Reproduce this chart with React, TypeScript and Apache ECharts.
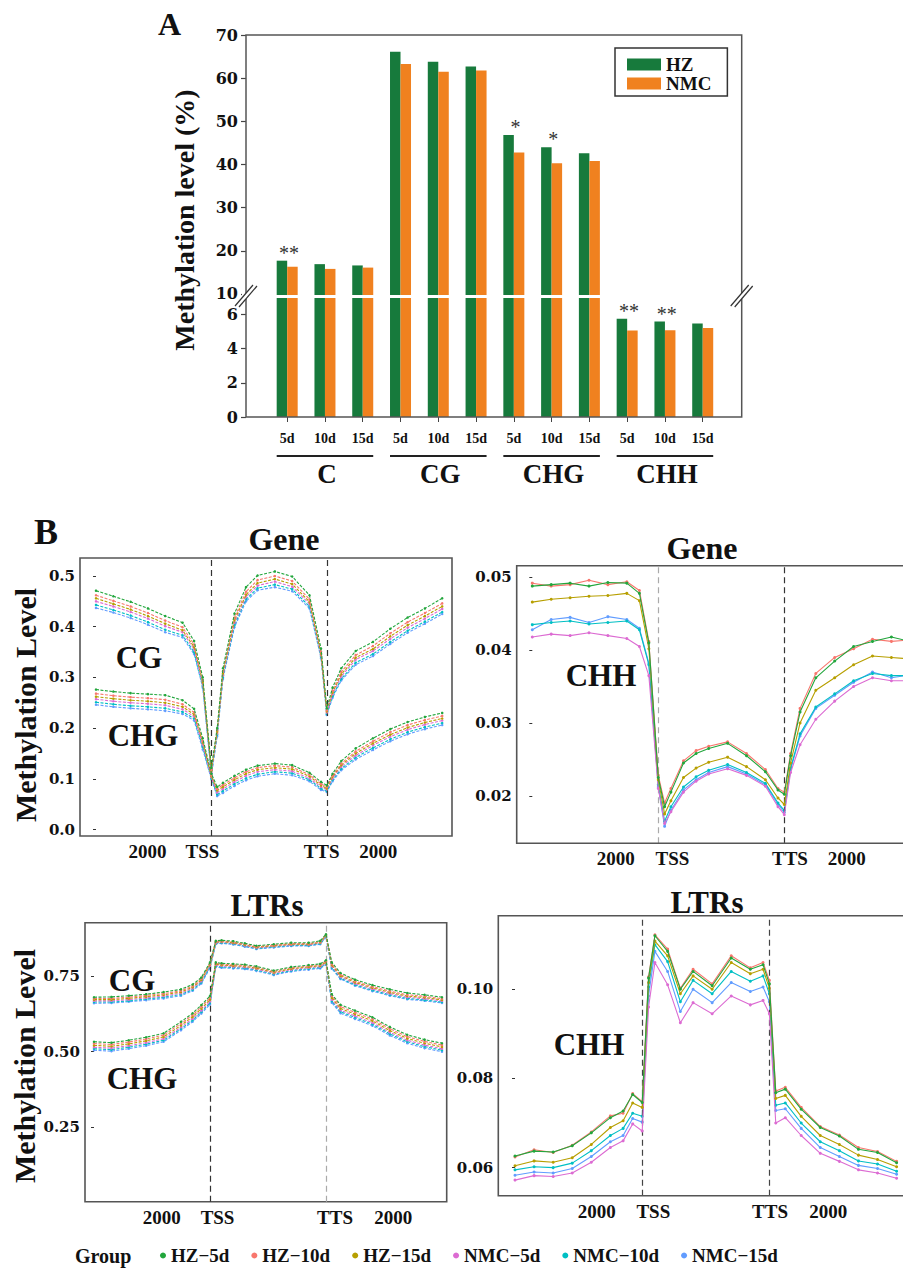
import React, { useEffect, useRef } from "react";
import * as echarts from "echarts";

const SERIF = '"Liberation Serif", "Times New Roman", Times, serif';
const DEJAVU = '"DejaVu Serif", "Liberation Serif", serif';

/* ---------------- Panel A data ---------------- */
const days = ["5d", "10d", "15d"];
const contexts = ["C", "CG", "CHG", "CHH"];
const hzLevel = [17.7, 16.9, 16.6, 66.1, 63.8, 62.7, 46.8, 44.0, 42.6, 5.75, 5.59, 5.47];
const nmcLevel = [16.3, 15.8, 16.1, 63.3, 61.5, 61.8, 42.8, 40.3, 40.8, 5.07, 5.08, 5.22];
const significance = ["**", "", "", "", "", "", "*", "*", "", "**", "**", ""];
const barLegend = ["HZ", "NMC"];
const upperTicks = [10, 20, 30, 40, 50, 60, 70];
const lowerTicks = [0, 2, 4, 6];

/* ---------------- Panel B data ---------------- */
const groupNames = ["HZ\u22125d", "HZ\u221210d", "HZ\u221215d", "NMC\u22125d", "NMC\u221210d", "NMC\u221215d"];
const regionLabels = ["2000", "TSS", "TTS", "2000"];
// bin positions: upstream 0-20, TSS = 20, gene body 20-40, TTS = 40, downstream 40-60
const binPos = [0, 3, 6, 9, 12, 15, 17, 18.5, 20, 21, 22, 24, 26, 28, 31, 34, 37, 39, 40, 41, 42.5, 45, 48, 51, 54, 57, 60];
const TSS_BIN = 20;
const TTS_BIN = 40;

const geneTicks = [0, 0.1, 0.2, 0.3, 0.4, 0.5];
const geneChhTicks = [0.02, 0.03, 0.04, 0.05];
const ltrTicks = [0.25, 0.5, 0.75];
const ltrChhTicks = [0.06, 0.08, 0.1];

// Gene CG
const geneCG_HZ5 = [0.471, 0.460, 0.449, 0.436, 0.421, 0.408, 0.372, 0.300, 0.122, 0.200, 0.318, 0.426, 0.478, 0.501, 0.509, 0.499, 0.462, 0.357, 0.239, 0.280, 0.318, 0.352, 0.370, 0.396, 0.418, 0.436, 0.456];
const geneCG_HZ10 = [0.462, 0.451, 0.440, 0.427, 0.412, 0.399, 0.365, 0.295, 0.118, 0.196, 0.312, 0.418, 0.469, 0.492, 0.500, 0.490, 0.454, 0.351, 0.235, 0.274, 0.311, 0.344, 0.362, 0.387, 0.409, 0.427, 0.446];
const geneCG_HZ15 = [0.456, 0.445, 0.434, 0.421, 0.406, 0.393, 0.360, 0.291, 0.116, 0.193, 0.308, 0.413, 0.463, 0.486, 0.494, 0.484, 0.449, 0.347, 0.233, 0.270, 0.306, 0.339, 0.356, 0.381, 0.403, 0.421, 0.440];
const geneCG_NMC5 = [0.450, 0.440, 0.429, 0.416, 0.401, 0.389, 0.356, 0.288, 0.113, 0.190, 0.304, 0.408, 0.459, 0.481, 0.489, 0.479, 0.445, 0.344, 0.231, 0.267, 0.302, 0.335, 0.352, 0.376, 0.398, 0.416, 0.435];
const geneCG_NMC10 = [0.443, 0.433, 0.422, 0.409, 0.394, 0.383, 0.350, 0.283, 0.110, 0.187, 0.300, 0.403, 0.454, 0.476, 0.483, 0.474, 0.440, 0.341, 0.228, 0.263, 0.297, 0.329, 0.346, 0.370, 0.392, 0.410, 0.429];
const geneCG_NMC15 = [0.437, 0.428, 0.417, 0.404, 0.389, 0.379, 0.346, 0.280, 0.107, 0.184, 0.297, 0.399, 0.450, 0.472, 0.478, 0.470, 0.436, 0.338, 0.226, 0.260, 0.294, 0.325, 0.342, 0.366, 0.388, 0.406, 0.425];

// Gene CHG
const geneCHG_HZ5 = [0.276, 0.272, 0.269, 0.267, 0.265, 0.255, 0.238, 0.180, 0.110, 0.084, 0.092, 0.106, 0.118, 0.126, 0.130, 0.127, 0.112, 0.094, 0.087, 0.110, 0.135, 0.160, 0.180, 0.198, 0.212, 0.222, 0.230];
const geneCHG_HZ10 = [0.268, 0.264, 0.261, 0.259, 0.256, 0.247, 0.231, 0.175, 0.107, 0.080, 0.088, 0.102, 0.114, 0.122, 0.126, 0.123, 0.108, 0.090, 0.084, 0.106, 0.130, 0.154, 0.174, 0.192, 0.206, 0.216, 0.224];
const geneCHG_HZ15 = [0.262, 0.258, 0.255, 0.253, 0.250, 0.242, 0.227, 0.172, 0.105, 0.077, 0.084, 0.098, 0.110, 0.118, 0.122, 0.119, 0.105, 0.087, 0.081, 0.104, 0.127, 0.150, 0.170, 0.187, 0.201, 0.211, 0.219];
const geneCHG_NMC5 = [0.257, 0.253, 0.250, 0.248, 0.245, 0.237, 0.223, 0.168, 0.103, 0.073, 0.080, 0.094, 0.106, 0.114, 0.118, 0.115, 0.101, 0.084, 0.079, 0.101, 0.124, 0.146, 0.166, 0.183, 0.197, 0.207, 0.215];
const geneCHG_NMC10 = [0.251, 0.247, 0.244, 0.242, 0.239, 0.232, 0.219, 0.163, 0.101, 0.069, 0.076, 0.090, 0.101, 0.109, 0.114, 0.111, 0.098, 0.081, 0.076, 0.098, 0.120, 0.142, 0.161, 0.178, 0.192, 0.202, 0.210];
const geneCHG_NMC15 = [0.246, 0.242, 0.239, 0.237, 0.234, 0.228, 0.215, 0.158, 0.099, 0.066, 0.072, 0.086, 0.097, 0.105, 0.110, 0.107, 0.095, 0.078, 0.074, 0.095, 0.117, 0.138, 0.157, 0.174, 0.188, 0.198, 0.206];

// Gene CHH
const geneCHH_HZ5 = [0.0488, 0.0490, 0.0492, 0.0488, 0.0493, 0.0492, 0.0478, 0.0410, 0.0225, 0.0185, 0.0205, 0.0245, 0.0258, 0.0265, 0.0272, 0.0255, 0.0233, 0.0208, 0.0202, 0.0255, 0.0315, 0.0362, 0.0385, 0.0405, 0.0412, 0.0418, 0.0412];
const geneCHH_HZ10 = [0.0492, 0.0488, 0.0490, 0.0496, 0.0490, 0.0494, 0.0482, 0.0412, 0.0228, 0.0190, 0.0210, 0.0248, 0.0262, 0.0268, 0.0274, 0.0258, 0.0236, 0.0210, 0.0205, 0.0258, 0.0320, 0.0368, 0.0390, 0.0402, 0.0415, 0.0412, 0.0414];
const geneCHH_HZ15 = [0.0466, 0.0470, 0.0472, 0.0474, 0.0475, 0.0478, 0.0468, 0.0402, 0.0222, 0.0175, 0.0193, 0.0225, 0.0238, 0.0246, 0.0253, 0.0240, 0.0222, 0.0197, 0.0188, 0.0245, 0.0300, 0.0345, 0.0362, 0.0380, 0.0392, 0.0390, 0.0388];
const geneCHH_NMC5 = [0.0418, 0.0422, 0.0420, 0.0424, 0.0420, 0.0416, 0.0405, 0.0365, 0.0210, 0.0162, 0.0178, 0.0205, 0.0220, 0.0230, 0.0237, 0.0228, 0.0213, 0.0185, 0.0174, 0.0232, 0.0270, 0.0305, 0.0330, 0.0350, 0.0362, 0.0358, 0.0358];
const geneCHH_NMC10 = [0.0435, 0.0438, 0.0440, 0.0436, 0.0438, 0.0440, 0.0428, 0.0380, 0.0215, 0.0165, 0.0185, 0.0212, 0.0226, 0.0235, 0.0243, 0.0232, 0.0217, 0.0190, 0.0180, 0.0238, 0.0285, 0.0322, 0.0340, 0.0358, 0.0368, 0.0365, 0.0365];
const geneCHH_NMC15 = [0.0428, 0.0442, 0.0445, 0.0438, 0.0446, 0.0442, 0.0430, 0.0382, 0.0212, 0.0158, 0.0180, 0.0208, 0.0222, 0.0232, 0.0240, 0.0230, 0.0215, 0.0188, 0.0177, 0.0236, 0.0282, 0.0320, 0.0338, 0.0356, 0.0370, 0.0362, 0.0366];

// LTR CG
const ltrCG_HZ5 = [0.680, 0.681, 0.685, 0.690, 0.697, 0.706, 0.722, 0.745, 0.795, 0.866, 0.868, 0.865, 0.858, 0.850, 0.855, 0.860, 0.860, 0.866, 0.888, 0.795, 0.760, 0.738, 0.720, 0.706, 0.694, 0.688, 0.680];
const ltrCG_HZ10 = [0.676, 0.676, 0.680, 0.686, 0.692, 0.701, 0.717, 0.741, 0.791, 0.864, 0.866, 0.862, 0.855, 0.847, 0.852, 0.857, 0.857, 0.863, 0.886, 0.790, 0.755, 0.733, 0.715, 0.700, 0.688, 0.683, 0.675];
const ltrCG_HZ15 = [0.672, 0.672, 0.676, 0.682, 0.688, 0.697, 0.713, 0.737, 0.788, 0.862, 0.864, 0.860, 0.853, 0.845, 0.850, 0.855, 0.855, 0.861, 0.884, 0.786, 0.751, 0.729, 0.711, 0.696, 0.684, 0.679, 0.671];
const ltrCG_NMC5 = [0.668, 0.668, 0.672, 0.678, 0.684, 0.693, 0.709, 0.733, 0.784, 0.860, 0.862, 0.858, 0.851, 0.843, 0.848, 0.853, 0.853, 0.859, 0.882, 0.782, 0.747, 0.725, 0.707, 0.692, 0.680, 0.675, 0.668];
const ltrCG_NMC10 = [0.664, 0.664, 0.668, 0.674, 0.680, 0.689, 0.705, 0.729, 0.780, 0.858, 0.860, 0.856, 0.849, 0.841, 0.846, 0.851, 0.851, 0.857, 0.880, 0.778, 0.743, 0.721, 0.703, 0.688, 0.676, 0.671, 0.664];
const ltrCG_NMC15 = [0.660, 0.661, 0.665, 0.670, 0.676, 0.685, 0.701, 0.725, 0.776, 0.856, 0.858, 0.854, 0.847, 0.839, 0.844, 0.849, 0.849, 0.855, 0.878, 0.774, 0.740, 0.718, 0.700, 0.685, 0.673, 0.668, 0.661];

// LTR CHG
const ltrCHG_HZ5 = [0.533, 0.530, 0.538, 0.548, 0.561, 0.599, 0.627, 0.654, 0.684, 0.795, 0.792, 0.790, 0.788, 0.782, 0.768, 0.780, 0.786, 0.790, 0.802, 0.690, 0.655, 0.636, 0.614, 0.582, 0.556, 0.540, 0.528];
const ltrCHG_HZ10 = [0.527, 0.524, 0.532, 0.542, 0.555, 0.593, 0.621, 0.648, 0.678, 0.792, 0.789, 0.787, 0.785, 0.779, 0.765, 0.777, 0.783, 0.787, 0.799, 0.684, 0.649, 0.630, 0.608, 0.576, 0.550, 0.534, 0.522];
const ltrCHG_HZ15 = [0.521, 0.518, 0.526, 0.536, 0.549, 0.587, 0.615, 0.642, 0.672, 0.789, 0.786, 0.784, 0.782, 0.776, 0.762, 0.774, 0.780, 0.784, 0.796, 0.678, 0.643, 0.624, 0.602, 0.570, 0.544, 0.528, 0.516];
const ltrCHG_NMC5 = [0.515, 0.512, 0.520, 0.530, 0.543, 0.581, 0.609, 0.636, 0.666, 0.786, 0.783, 0.781, 0.779, 0.773, 0.759, 0.771, 0.777, 0.781, 0.793, 0.672, 0.637, 0.618, 0.596, 0.564, 0.538, 0.522, 0.510];
const ltrCHG_NMC10 = [0.510, 0.507, 0.515, 0.525, 0.538, 0.576, 0.604, 0.631, 0.661, 0.783, 0.780, 0.778, 0.776, 0.770, 0.756, 0.768, 0.774, 0.778, 0.790, 0.667, 0.632, 0.613, 0.591, 0.559, 0.533, 0.517, 0.505];
const ltrCHG_NMC15 = [0.505, 0.502, 0.510, 0.520, 0.533, 0.571, 0.599, 0.626, 0.656, 0.780, 0.777, 0.775, 0.773, 0.767, 0.753, 0.765, 0.771, 0.775, 0.787, 0.662, 0.627, 0.608, 0.586, 0.554, 0.528, 0.512, 0.500];

// LTR CHH
const ltrCHH_HZ5 = [0.0626, 0.0637, 0.0635, 0.0649, 0.0678, 0.0712, 0.0727, 0.0764, 0.0746, 0.1025, 0.1120, 0.1085, 0.1000, 0.1040, 0.1008, 0.1070, 0.1045, 0.1055, 0.1012, 0.0768, 0.0776, 0.0731, 0.0690, 0.0671, 0.0641, 0.0634, 0.0611];
const ltrCHH_HZ10 = [0.0624, 0.0640, 0.0634, 0.0650, 0.0680, 0.0716, 0.0722, 0.0766, 0.0748, 0.1028, 0.1122, 0.1090, 0.1002, 0.1045, 0.1012, 0.1075, 0.1048, 0.1060, 0.1020, 0.0772, 0.0780, 0.0735, 0.0692, 0.0673, 0.0645, 0.0636, 0.0614];
const ltrCHH_HZ15 = [0.0604, 0.0615, 0.0612, 0.0622, 0.0652, 0.0690, 0.0705, 0.0745, 0.0735, 0.1015, 0.1108, 0.1075, 0.0990, 0.1030, 0.1000, 0.1060, 0.1035, 0.1045, 0.1002, 0.0755, 0.0762, 0.0715, 0.0672, 0.0652, 0.0628, 0.0618, 0.0602];
const ltrCHH_NMC5 = [0.0572, 0.0582, 0.0580, 0.0588, 0.0612, 0.0645, 0.0660, 0.0698, 0.0682, 0.0960, 0.1060, 0.1010, 0.0925, 0.0970, 0.0945, 0.0985, 0.0965, 0.0975, 0.0945, 0.0700, 0.0712, 0.0672, 0.0632, 0.0614, 0.0595, 0.0588, 0.0576];
const ltrCHH_NMC10 = [0.0595, 0.0602, 0.0600, 0.0610, 0.0638, 0.0672, 0.0688, 0.0722, 0.0715, 0.1005, 0.1100, 0.1062, 0.0972, 0.1020, 0.0990, 0.1040, 0.1018, 0.1030, 0.0990, 0.0740, 0.0745, 0.0700, 0.0658, 0.0638, 0.0615, 0.0608, 0.0592];
const ltrCHH_NMC15 = [0.0583, 0.0590, 0.0588, 0.0598, 0.0625, 0.0658, 0.0672, 0.0710, 0.0702, 0.0985, 0.1085, 0.1040, 0.0950, 0.1000, 0.0970, 0.1015, 0.0995, 0.1005, 0.0972, 0.0728, 0.0732, 0.0688, 0.0645, 0.0625, 0.0605, 0.0598, 0.0585];

/* ---------------- styles / layout ---------------- */
const C_GREEN = "#177a3c";
const C_ORANGE = "#f0811f";
const lineColors = ["#22a63c", "#f8766d", "#b79f00", "#dc6bd2", "#00bfc4", "#619cff"];

const geneCG = [geneCG_HZ5, geneCG_HZ10, geneCG_HZ15, geneCG_NMC5, geneCG_NMC10, geneCG_NMC15];
const geneCHG = [geneCHG_HZ5, geneCHG_HZ10, geneCHG_HZ15, geneCHG_NMC5, geneCHG_NMC10, geneCHG_NMC15];
const geneCHH = [geneCHH_HZ5, geneCHH_HZ10, geneCHH_HZ15, geneCHH_NMC5, geneCHH_NMC10, geneCHH_NMC15];
const ltrCG = [ltrCG_HZ5, ltrCG_HZ10, ltrCG_HZ15, ltrCG_NMC5, ltrCG_NMC10, ltrCG_NMC15];
const ltrCHG = [ltrCHG_HZ5, ltrCHG_HZ10, ltrCHG_HZ15, ltrCHG_NMC5, ltrCHG_NMC10, ltrCHG_NMC15];
const ltrCHH = [ltrCHH_HZ5, ltrCHH_HZ10, ltrCHH_HZ15, ltrCHH_NMC5, ltrCHH_NMC10, ltrCHH_NMC15];

const PAGE_W = 903;

function buildOption() {
  const categories = contexts.flatMap((c) => days.map((d) => c + " " + d));
  const A_FRAME = { left: 246, right: 741.7, top: 35, bottom: 417 };
  const A_GRID_LEFT = 268.3;
  const A_GRID_W = 453.3;
  const BAR_W = 10.5;
  const UP = { top: 35, height: 260, min: 9.75, max: 70 };
  const LO = { top: 298, height: 119, min: 0, max: 6.97 };
  const catW = A_GRID_W / categories.length;
  const catX = (i: number) => A_GRID_LEFT + (i + 0.5) * catW;

  const starLabel = (s: string) => ({
    show: true, position: "top", distance: -2, offset: [7, 0], formatter: s,
    fontFamily: SERIF, fontSize: 20, color: "#333", fontWeight: "normal",
  });
  const barData = (vals: number[], seg: string, stars: boolean) =>
    vals.map((v, i) => {
      if (seg === "up" && v < UP.min) return "-";
      const topVisible = seg === "up" ? v >= UP.min : v <= LO.max;
      const s = stars ? significance[i] : "";
      if (s && topVisible) return { value: v, label: starLabel(s) };
      return v;
    });

  const grids: any[] = [
    { left: A_GRID_LEFT, top: UP.top, width: A_GRID_W, height: UP.height },
    { left: A_GRID_LEFT, top: LO.top, width: A_GRID_W, height: LO.height },
  ];
  const xAxes: any[] = [
    { type: "category", gridIndex: 0, data: categories, show: false },
    {
      type: "category", gridIndex: 1, data: categories,
      axisLine: { show: false },
      axisTick: { show: true, alignWithLabel: true, length: 5, lineStyle: { color: "#444", width: 1 } },
      axisLabel: {
        interval: 0, formatter: (v: string) => v.split(" ")[1], fontFamily: SERIF,
        fontWeight: "bold", fontSize: 14, color: "#111", margin: 14,
      },
      splitLine: { show: false },
    },
  ];
  const yAxisA = (gi: number, seg: any, ticks: number[]) => ({
    type: "value", gridIndex: gi, min: seg.min, max: seg.max,
    offset: A_GRID_LEFT - A_FRAME.left,
    axisLine: { show: false },
    axisTick: { show: true, customValues: ticks, length: 5, lineStyle: { color: "#444", width: 1.2 } },
    axisLabel: { customValues: ticks, fontFamily: DEJAVU, fontWeight: "bold", fontSize: 16, color: "#111", margin: 8 },
    splitLine: { show: false },
  });
  const yAxes: any[] = [yAxisA(0, UP, upperTicks), yAxisA(1, LO, lowerTicks)];

  const series: any[] = [
    { type: "bar", name: barLegend[0], xAxisIndex: 0, yAxisIndex: 0, data: barData(hzLevel, "up", true), barWidth: BAR_W, barGap: "0%", itemStyle: { color: C_GREEN } },
    { type: "bar", name: barLegend[1], xAxisIndex: 0, yAxisIndex: 0, data: barData(nmcLevel, "up", false), barWidth: BAR_W, barGap: "0%", itemStyle: { color: C_ORANGE } },
    { type: "bar", name: barLegend[0], xAxisIndex: 1, yAxisIndex: 1, data: barData(hzLevel, "lo", true), barWidth: BAR_W, barGap: "0%", itemStyle: { color: C_GREEN } },
    { type: "bar", name: barLegend[1], xAxisIndex: 1, yAxisIndex: 1, data: barData(nmcLevel, "lo", false), barWidth: BAR_W, barGap: "0%", itemStyle: { color: C_ORANGE } },
  ];

  /* ----- panel B ----- */
  // frame box (px), pixel of bin 0 and px per bin; open: frame runs off the page's right edge
  const panels = [
    { left: 80, right: 452, top: 558, bottom: 836, origin: 96, step: 5.77, y: [-0.0128, 0.5355], yTicks: geneTicks, dec: 1,
      xTickPos: [8.93, 18.46, 39.1, 48.9], sets: [geneCG, geneCHG], dashed: true, vline: ["#333", "#333"], open: false },
    { left: 516.7, right: PAGE_W, top: 565.7, bottom: 843.3, origin: 532.3, step: 6.3, y: [0.01347, 0.0516], yTicks: geneChhTicks, dec: 2,
      xTickPos: [13.25, 22.25, 40.9, 49.9], sets: [geneCHH], dashed: false, vline: ["#aaa", "#333"], open: true },
    { left: 85, right: 446.7, top: 922.7, bottom: 1201.7, origin: 94, step: 5.8, y: [0.005, 0.926], yTicks: ltrTicks, dec: 2,
      xTickPos: [11.67, 21.3, 41.55, 51.6], sets: [ltrCG, ltrCHG], dashed: true, vline: ["#333", "#aaa"], open: false },
    { left: 498.3, right: PAGE_W, top: 915.7, bottom: 1195.7, origin: 515, step: 6.36, y: [0.0537, 0.1165], yTicks: ltrChhTicks, dec: 2,
      xTickPos: [12.85, 21.75, 40.1, 49.26], sets: [ltrCHH], dashed: false, vline: ["#444", "#444"], open: true },
  ];

  const frames: any[] = [];
  panels.forEach((p, pi) => {
    const gi = pi + 2;
    grids.push({
      left: p.left, top: p.top, width: p.right - p.left, height: p.bottom - p.top,
      show: !p.open, borderColor: "#555", borderWidth: 1.6, backgroundColor: "transparent",
    });
    if (p.open) {
      frames.push({
        type: "polyline", silent: true, z: 40,
        shape: { points: [[PAGE_W + 5, p.top], [p.left, p.top], [p.left, p.bottom], [PAGE_W + 5, p.bottom]] },
        style: { fill: "none", stroke: "#555", lineWidth: 1.6 },
      });
    }
    xAxes.push({
      type: "value", gridIndex: gi,
      min: (p.left - p.origin) / p.step, max: (p.right - p.origin) / p.step,
      axisLine: { show: false }, axisTick: { show: false }, splitLine: { show: false },
      axisLabel: {
        customValues: p.xTickPos,
        formatter: (v: number) => {
          let best = 0;
          p.xTickPos.forEach((t, k) => { if (Math.abs(t - v) < Math.abs(p.xTickPos[best] - v)) best = k; });
          return regionLabels[best];
        },
        fontFamily: SERIF, fontWeight: "bold", fontSize: 19, color: "#111", margin: 6,
      },
    });
    yAxes.push({
      type: "value", gridIndex: gi, min: p.y[0], max: p.y[1],
      axisLine: { show: false }, splitLine: { show: false },
      axisTick: { show: true, customValues: p.yTicks, length: 3, lineStyle: { color: "#333", width: 1 } },
      axisLabel: {
        customValues: p.yTicks, formatter: (v: number) => v.toFixed(p.dec),
        fontFamily: DEJAVU, fontWeight: "bold", fontSize: 15, color: "#111", margin: 5,
      },
    });
    p.sets.forEach((set, si) => {
      set.forEach((vals, k) => {
        const s: any = {
          type: "line", name: groupNames[k], xAxisIndex: gi, yAxisIndex: gi,
          data: binPos.map((b, i) => [b, vals[i]]),
          symbol: "circle", symbolSize: p.dashed ? 2.5 : 3, showSymbol: true, clip: true,
          lineStyle: { color: lineColors[k], width: 1.1, type: p.dashed ? [3, 1.5] : "solid" },
          itemStyle: { color: lineColors[k] },
          z: 3 + (5 - k),
        };
        if (si === 0 && k === 0) {
          s.markLine = {
            silent: true, symbol: ["none", "none"], label: { show: false },
            data: [
              { xAxis: TSS_BIN, lineStyle: { color: p.vline[0], type: [6, 4], width: 1.2 } },
              { xAxis: TTS_BIN, lineStyle: { color: p.vline[1], type: [6, 4], width: 1.2 } },
            ],
          };
        }
        series.push(s);
      });
    });
  });

  /* ----- graphic annotations ----- */
  const txt = (text: string, x: number, y: number, size: number, o: any = {}) => ({
    type: "text", x, y, rotation: o.rotation || 0, silent: true, z: 50,
    style: {
      text, fill: o.color || "#111", fontSize: size, fontWeight: o.weight || "bold",
      fontFamily: o.family || SERIF, align: o.align || "center", verticalAlign: "middle",
      textAlign: o.align || "center", textVerticalAlign: "middle",
    },
  });
  const line = (x1: number, y1: number, x2: number, y2: number, w: number, c = "#222") => ({
    type: "line", silent: true, z: 50, shape: { x1, y1, x2, y2 }, style: { stroke: c, lineWidth: w },
  });
  const brkY = 296;
  const elements: any[] = [
    txt("A", 158, 24, 32, { align: "left" }),
    txt("Methylation level (%)", 184, 220, 28, { rotation: Math.PI / 2 }),
    {
      type: "rect", silent: true, z: 40,
      shape: { x: A_FRAME.left, y: A_FRAME.top, width: A_FRAME.right - A_FRAME.left, height: A_FRAME.bottom - A_FRAME.top },
      style: { fill: "none", stroke: "#555", lineWidth: 1.5 },
    },
    { type: "rect", silent: true, z: 45, shape: { x: A_FRAME.left - 4, y: brkY - 3, width: 8, height: 6 }, style: { fill: "#fff" } },
    { type: "rect", silent: true, z: 45, shape: { x: A_FRAME.right - 4, y: brkY - 3, width: 8, height: 6 }, style: { fill: "#fff" } },
    ...frames,
  ];
  [A_FRAME.left, A_FRAME.right].forEach((ax) => {
    elements.push(line(ax - 11, brkY + 10, ax + 7, brkY - 11, 1.2, "#333"));
    elements.push(line(ax - 7, brkY + 11, ax + 11, brkY - 10, 1.2, "#333"));
  });
  contexts.forEach((c, g) => {
    const x0 = catX(g * 3) - BAR_W;
    const x1 = catX(g * 3 + 2) + BAR_W;
    elements.push(line(x0, 456, x1, 456, 2, "#222"));
    elements.push(txt(c, catX(g * 3 + 1) + 2, 474, 27));
  });

  elements.push(txt("B", 34, 532, 36, { align: "left" }));
  elements.push(txt("Gene", 284, 539, 32));
  elements.push(txt("Gene", 702, 548, 32));
  elements.push(txt("LTRs", 267, 905, 31));
  elements.push(txt("LTRs", 707, 902, 31));
  elements.push(txt("CG", 139, 657, 31));
  elements.push(txt("CHG", 143, 735, 31));
  elements.push(txt("CHH", 601, 675, 31));
  elements.push(txt("CG", 132, 980, 31));
  elements.push(txt("CHG", 142, 1078, 31));
  elements.push(txt("CHH", 589, 1044, 31));
  elements.push(txt("Methylation Level", 25, 705, 30, { rotation: Math.PI / 2 }));
  elements.push(txt("Methylation Level", 24, 1066, 30, { rotation: Math.PI / 2 }));
  elements.push(txt("Group", 75, 1256, 20, { align: "left" }));

  return {
    animation: false,
    backgroundColor: "#fff",
    textStyle: { fontFamily: SERIF },
    grid: grids,
    xAxis: xAxes,
    yAxis: yAxes,
    legend: [
      {
        data: barLegend, left: 615, top: 48, orient: "vertical", icon: "rect",
        itemWidth: 34, itemHeight: 12, itemGap: 0, padding: [7, 16, 3, 12],
        borderColor: "#333", borderWidth: 1.5, selectedMode: false,
        textStyle: { fontFamily: SERIF, fontWeight: "bold", fontSize: 19, color: "#111" },
      },
      {
        data: groupNames, left: 160, top: 1246, orient: "horizontal", icon: "circle",
        itemWidth: 6, itemHeight: 6, itemGap: 22, selectedMode: false, padding: 0,
        textStyle: { fontFamily: SERIF, fontWeight: "bold", fontSize: 19, color: "#111" },
      },
    ],
    series,
    graphic: { elements },
  };
}

export default function App() {
  const ref = useRef<HTMLDivElement>(null);
  useEffect(() => {
    if (!ref.current) return;
    const chart = echarts.init(ref.current, null, { renderer: "svg", width: PAGE_W, height: 1270 });
    chart.setOption(buildOption() as any);
    return () => chart.dispose();
  }, []);
  return (
    <div
      ref={ref}
      style={{ position: "absolute", left: 0, top: 0, width: PAGE_W, height: 1270, background: "#fff" }}
    />
  );
}
